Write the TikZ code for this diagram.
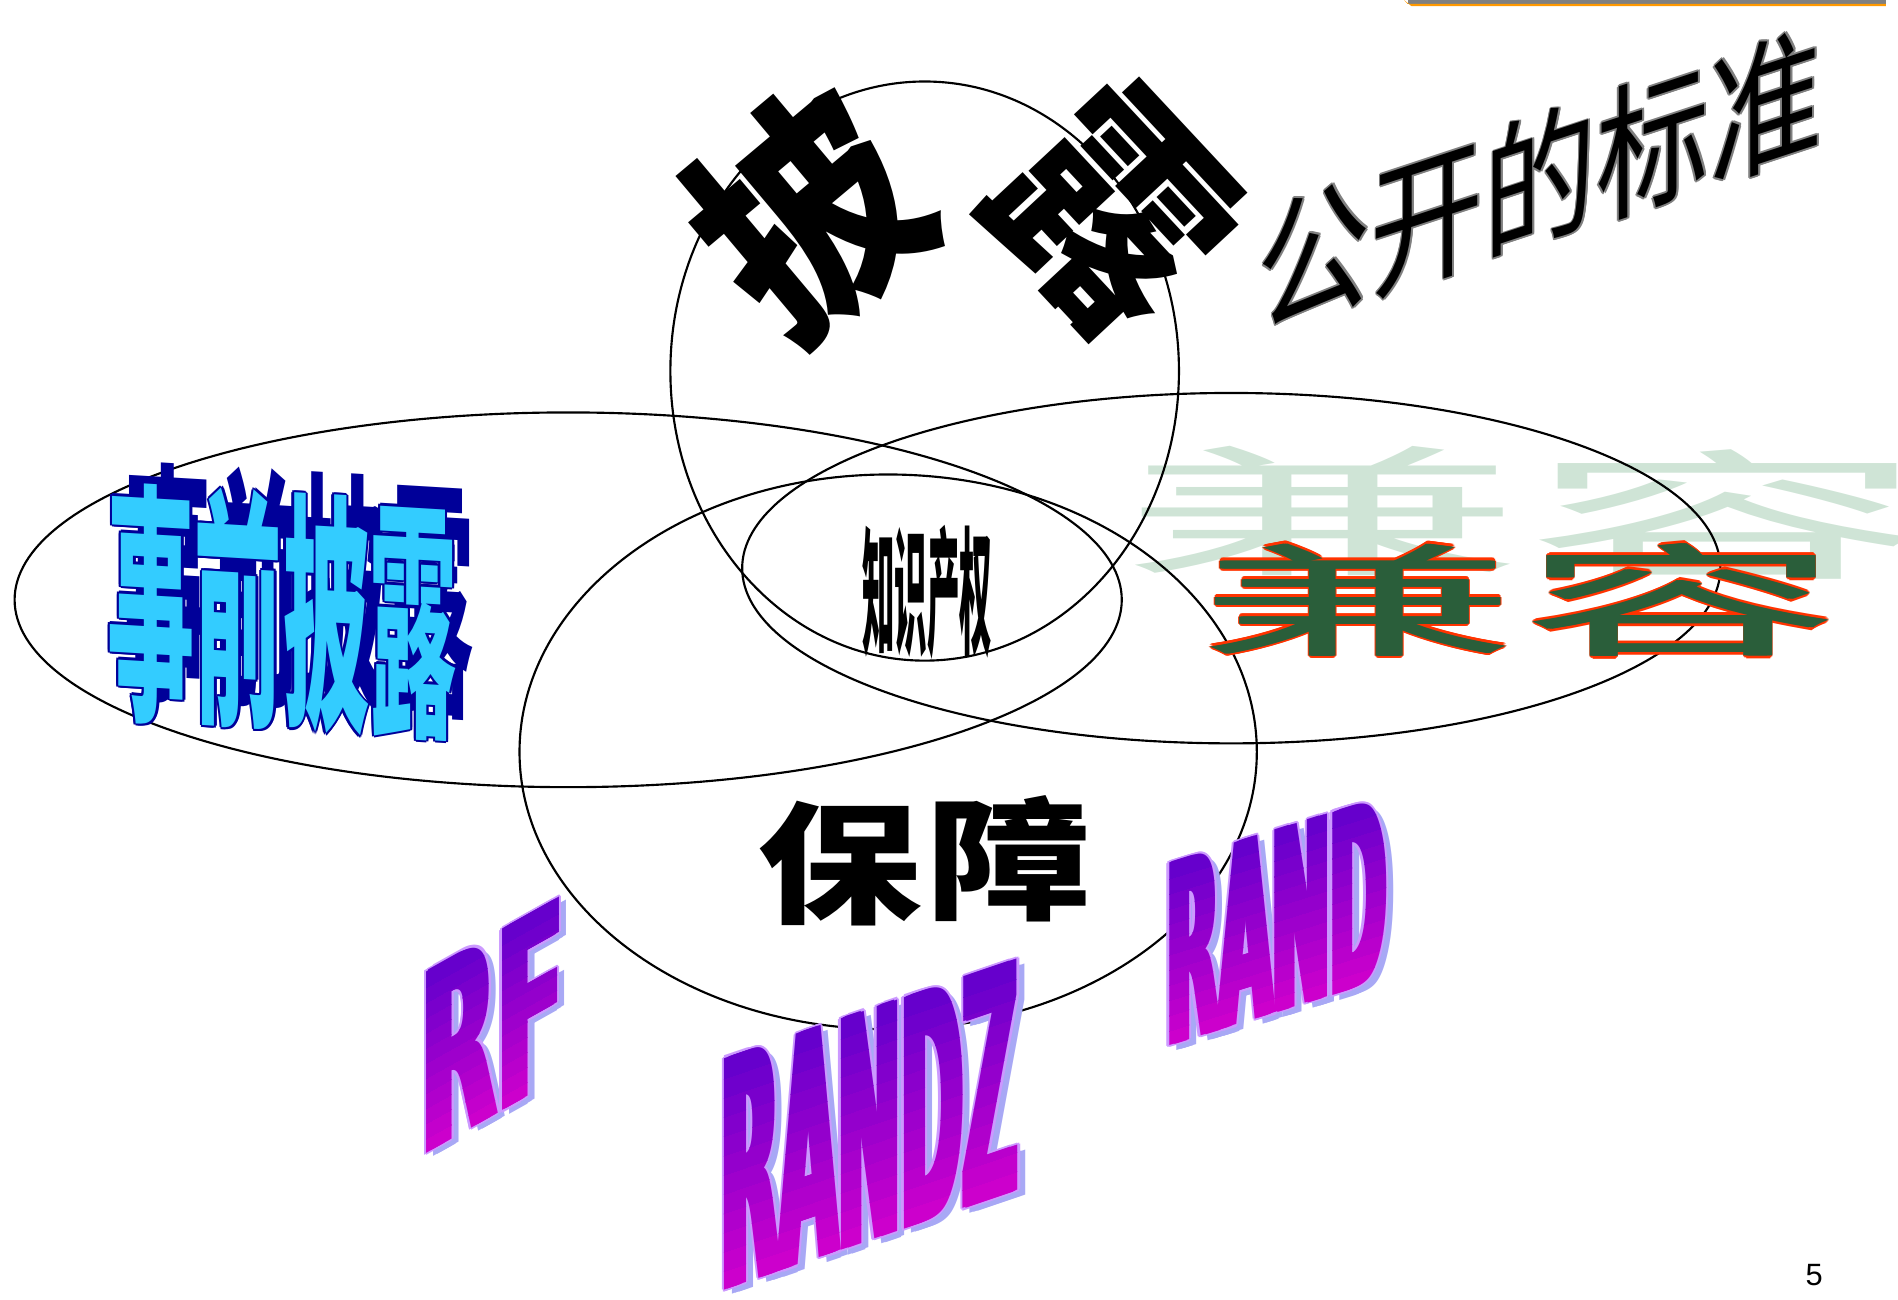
\documentclass[tikz,border=0pt]{standalone}
\usepackage{fontspec}
\setmainfont{Liberation Sans}
\newfontfamily\cjk{Noto Sans CJK SC}
\newfontfamily\blocky{DejaVu Sans}
\definecolor{barGrey}{HTML}{808080}
\definecolor{barOrange}{HTML}{FF9900}
\definecolor{skyFill}{HTML}{33CCFF}
\definecolor{navyLine}{HTML}{000099}
\definecolor{jadeDark}{HTML}{2A5E3A}
\definecolor{jadeFade}{HTML}{CFE4D6}
\definecolor{rimRed}{HTML}{FF3300}
\definecolor{violetTop}{HTML}{6600CC}
\definecolor{violetBot}{HTML}{CC00CC}
\definecolor{lavShadow}{HTML}{A8A8F5}
\definecolor{lavRim}{HTML}{CC99FF}

\begin{document}
\begin{tikzpicture}
[x=0.01cm,y=-0.01cm,
 ring/.style={draw=black,line width=0.5pt},
 word/.style={inner sep=0pt,outer sep=0pt,transform shape},
 han/.style={word,font=\cjk\fontsize{20}{20}\selectfont},
 hanbf/.style={word,font=\cjk\bfseries\fontsize{20}{20}\selectfont},
 latin/.style={word,anchor=base west,font=\blocky\bfseries\fontsize{20}{20}\selectfont}]
\useasboundingbox (0,0) rectangle (1560,1068);

% title bar
\fill[barGrey] (1157,0) rectangle (1550,3.3);
\fill[barOrange] (1154,0) -- (1157,3.3) -- (1550,3.3) -- (1550,5) -- (1160,5) -- cycle;

% faded copy of jian rong
\node[han,text=jadeFade,xscale=4.74,yscale=1.64] (jianF) at (1087,420) {兼};
\node[han,text=jadeFade,xscale=4.74,yscale=1.64] (rongF) at (1420,423) {容};

% the four rings
\draw[ring] (760,305) ellipse [x radius=209,y radius=238];
\draw[ring] (467,493) ellipse [x radius=455,y radius=154];
\draw[ring] (1012,467) ellipse [x radius=402,y radius=144];
\draw[ring] (730,618) ellipse [x radius=303,y radius=228];

% pi lu over the top ring
\node[hanbf,rotate=40,xscale=2.5,yscale=2.8] (pi) at (664,176) {披};
\node[hanbf,rotate=-47,xscale=2.5,yscale=2.8] (lu) at (915,173) {露};

% gongkai de biaozhun
\begin{scope}[shift={(1266,148)},yslant=0.33]
  \foreach \a in {0,45,...,315}
    \node[han,text=gray,xscale=1.32,yscale=1.7] (gkbz-\a) at (\a:1.5) {公开的标准};
  \node[han,xscale=1.32,yscale=1.7] (gkbz) at (0,0) {公开的标准};
\end{scope}

% shiqian pilu
\begin{scope}[shift={(232,503)},yslant=-0.06]
  \node[hanbf,text=navyLine,xscale=1.02,yscale=2.95] (sqpl-shadow) at (14,-18) {事前披露};
  \foreach \a in {0,45,...,315}
    \node[hanbf,text=navyLine,xscale=1.02,yscale=2.95] (sqpl-\a) at (\a:2) {事前披露};
  \node[hanbf,text=skyFill,xscale=1.02,yscale=2.95] (sqpl) at (0,0) {事前披露};
\end{scope}

% jian rong
\foreach \a in {0,30,...,330}{
  \node[han,text=rimRed,xscale=3.7,yscale=1.42] (jian-\a) at ([shift={(\a:2.2)}]1116,493) {兼};
  \node[han,text=rimRed,xscale=3.7,yscale=1.42] (rong-\a) at ([shift={(\a:2.2)}]1382,493) {容};
}
\foreach \d in {-2,0,2}{
  \node[han,text=jadeDark,xscale=3.7,yscale=1.42] (jian\d) at ([xshift=\d*0.01cm]1116,493) {兼};
  \node[han,text=jadeDark,xscale=3.7,yscale=1.42] (rong\d) at ([xshift=\d*0.01cm]1382,493) {容};
}

% zhishi chanquan, baozhang
\node[hanbf,xscale=0.38,yscale=1.62] (zscq) at (762,487) {知识产权};
\node[hanbf,xscale=1.92,yscale=1.54] (bao) at (690,710) {保};
\node[hanbf,xscale=1.92,yscale=1.54] (zhang) at (830,706) {障};

% RF, RANDZ, RAND
\foreach \nm/\px/\py/\sl/\xs/\ys/\h/\w/\txt in
  {rf/343/952/0.56/1.15/2.91/149/140/RF,
   randz/590/1062/0.34/0.88/3.71/190/270/RANDZ,
   rand/956/861/0.31/0.8/2.93/150/200/RAND}{
  \begin{scope}[shift={(\px,\py)},yslant=\sl]
    \foreach \dx in {0,3,6}
      \node[latin,text=lavShadow,xscale=\xs,yscale=\ys] (\nm-shadow\dx) at (6+\dx,6) {\txt};
    \foreach \a in {0,45,...,315}
      \foreach \dx in {0,6}
        \node[latin,text=lavRim,xscale=\xs,yscale=\ys] (\nm-rim\a) at ([shift={(\a:1.8)}]\dx,0) {\txt};
    \foreach \k in {0,...,11}{
      \pgfmathsetmacro\pct{100*\k/11}
      \pgfmathsetmacro\yb{\k==0 ? 20 : -\k*\h/12+0.6}
      \pgfmathsetmacro\yt{\k==11 ? -\h-40 : -(\k+1)*\h/12}
      \begin{scope}
        \clip (-20,\yb) rectangle (\w,\yt);
        \foreach \dx in {0,2,4,6}
          \node[latin,text=violetTop!\pct!violetBot,xscale=\xs,yscale=\ys] (\nm-band\k) at (\dx,0) {\txt};
      \end{scope}}
  \end{scope}}

\node[font=\fontsize{7.2}{8}\selectfont,inner sep=0pt] (pageno) at (1491,1048) {5};
\end{tikzpicture}
\end{document}
